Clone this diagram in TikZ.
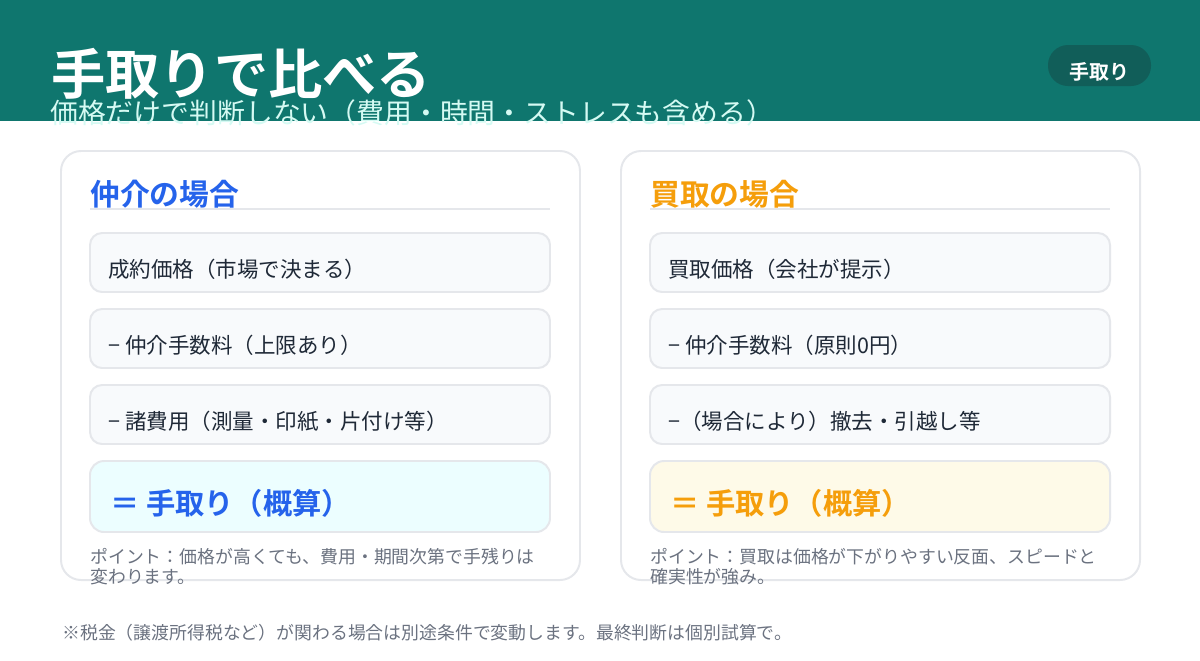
\documentclass[tikz,border=0pt]{standalone}
\usepackage{fontspec}
\setmainfont{Noto Sans CJK JP}[BoldFont={Noto Sans CJK JP Bold}]
\definecolor{headteal}{HTML}{0F766E}
\definecolor{badgeteal}{HTML}{115E59}
\definecolor{subtext}{HTML}{D5FAF3}
\definecolor{chukai}{HTML}{2563EB}
\definecolor{kaitori}{HTML}{F59E0B}
\definecolor{cardline}{HTML}{E5E7EB}
\definecolor{rowfill}{HTML}{F8FAFC}
\definecolor{bodytext}{HTML}{1F2937}
\definecolor{notegray}{HTML}{6B7280}
\definecolor{sumcyan}{HTML}{ECFEFF}
\definecolor{sumcream}{HTML}{FEFAE8}
\begin{document}
\begin{tikzpicture}[x=0.025cm,y=-0.025cm,
    card/.style={draw=cardline,line width=1.4pt,fill=white,rounded corners=0.5cm},
    rowbox/.style={draw=cardline,line width=1.4pt,fill=rowfill,rounded corners=0.3cm},
    rule/.style={draw=cardline,line width=1.4pt},
    txt/.style={anchor=west,inner sep=0pt},
    rowtext/.style={txt,text=bodytext,font=\fontsize{15.3pt}{18pt}\selectfont},
    headtext/.style={txt,font=\bfseries\fontsize{21.2pt}{25pt}\selectfont},
    sumtext/.style={txt,font=\bfseries\fontsize{20.8pt}{25pt}\selectfont},
    notetext/.style={txt,text=notegray,align=left,font=\fontsize{12.7pt}{14.2pt}\selectfont}]
    \useasboundingbox (0,0) rectangle (1200,660);

    % Header band
    \fill[headteal] (0,0) rectangle (1200,121);
    \node[txt,text=white,font=\bfseries\fontsize{38.6pt}{41pt}\selectfont] (title) at (51,74) {手取りで比べる};
    \node[txt,text=subtext,font=\fontsize{19.8pt}{22pt}\selectfont] (subtitle) at (50,113) {価格だけで判断しない（費用・時間・ストレスも含める）};
    \fill[badgeteal,rounded corners=0.5cm] (1048,45) rectangle (1151,86);
    \node[inner sep=0pt,text=white,font=\bfseries\fontsize{14.2pt}{17pt}\selectfont] (badge) at (1099.5,72) {手取り};

    % Left card: brokerage
    \draw[card] (61,151) rectangle (580,580);
    \node[headtext,text=chukai] (lhead) at (90,194) {仲介の場合};
    \draw[rule] (90,209) -- (550,209);
    \draw[rowbox] (90,233) rectangle (550,292);
    \node[rowtext] (lprice) at (108,269) {成約価格（市場で決まる）};
    \draw[rowbox] (90,309) rectangle (550,368);
    \node[rowtext] (lfee) at (108,345) {− 仲介手数料（上限あり）};
    \draw[rowbox] (90,385) rectangle (550,444);
    \node[rowtext] (lcost) at (108,421) {− 諸費用（測量・印紙・片付け等）};
    \draw[rowbox,fill=sumcyan,rounded corners=0.35cm] (90,461) rectangle (550,532);
    \node[sumtext,text=chukai] (lsum) at (110,503) {＝ 手取り（概算）};
    \node[notetext] (lnote) at (90,567) {ポイント：価格が高くても、費用・期間次第で手残りは\\変わります。};

    % Right card: direct purchase
    \draw[card] (621,151) rectangle (1140,580);
    \node[headtext,text=kaitori] (rhead) at (650,194) {買取の場合};
    \draw[rule] (650,209) -- (1110,209);
    \draw[rowbox] (650,233) rectangle (1110,292);
    \node[rowtext] (rprice) at (668,269) {買取価格（会社が提示）};
    \draw[rowbox] (650,309) rectangle (1110,368);
    \node[rowtext] (rfee) at (668,345) {− 仲介手数料（原則0円）};
    \draw[rowbox] (650,385) rectangle (1110,444);
    \node[rowtext] (rcost) at (668,421) {−（場合により）撤去・引越し等};
    \draw[rowbox,fill=sumcream,rounded corners=0.35cm] (650,461) rectangle (1110,532);
    \node[sumtext,text=kaitori] (rsum) at (670,503) {＝ 手取り（概算）};
    \node[notetext] (rnote) at (650,567) {ポイント：買取は価格が下がりやすい反面、スピードと\\確実性が強み。};

    % Footnote
    \node[notetext] (footnote) at (62,633) {※税金（譲渡所得税など）が関わる場合は別途条件で変動します。最終判断は個別試算で。};
\end{tikzpicture}
\end{document}
